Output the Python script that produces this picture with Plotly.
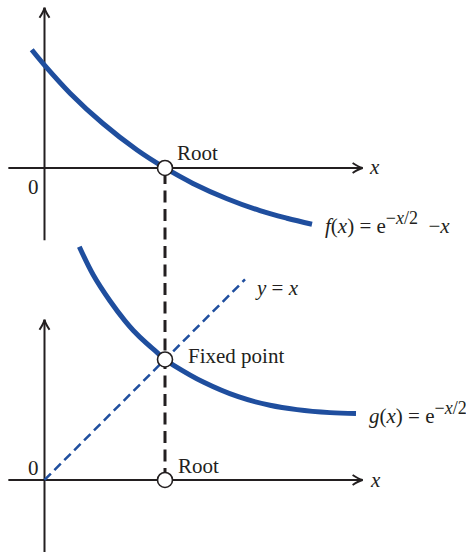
import plotly.graph_objects as go

# Upper panel: f(x) = e^(-x/2) - x  (x measured so that the root sits at 1)
f_x = [-0.106, -0.004, 0.212, 0.485, 0.768, 1.0, 1.232, 1.515, 1.788, 2.012, 2.220]
f_y = [0.981, 0.858, 0.621, 0.369, 0.149, 0.0, -0.128, -0.255, -0.354, -0.417, -0.467]

# Lower panel: g(x) = e^(-x/2)
g_x = [0.289, 0.405, 0.544, 0.668, 0.737, 0.848, 0.931, 1.0, 1.069, 1.318, 1.608,
       1.871, 2.095, 2.369, 2.585]
g_y = [1.936, 1.701, 1.485, 1.320, 1.241, 1.133, 1.062, 1.0, 0.954, 0.813, 0.691,
       0.620, 0.584, 0.559, 0.551]

# Identity line y = x
id_x = [0.0, 1.664]
id_y = [0.0, 1.664]

root_x = 1.0
fixed_pt = (1.0, 1.0)

# Axis extents (same for both panels)
h_axis = [-0.30, 2.64]
v_axis = [-0.60, 1.33]

# Height of the upper panel's origin in lower-panel units
top_origin = 2.589

BLUE = "#1f4e9e"
INK = "#231f20"
FONT = "Liberation Serif"

fig = go.Figure()

# dashed connector between the two roots
fig.add_trace(go.Scatter(x=[root_x, root_x], y=[0, top_origin], mode="lines",
                         line=dict(color=INK, width=3, dash="12px,6.5px"),
                         hoverinfo="skip"))
# y = x
fig.add_trace(go.Scatter(x=id_x, y=id_y, mode="lines",
                         line=dict(color=BLUE, width=2.5, dash="9px,5px"),
                         hoverinfo="skip"))
# curves
fig.add_trace(go.Scatter(x=f_x, y=f_y, yaxis="y2", mode="lines",
                         line=dict(color=BLUE, width=5, shape="spline", smoothing=1.0),
                         hoverinfo="skip"))
fig.add_trace(go.Scatter(x=g_x, y=g_y, mode="lines",
                         line=dict(color=BLUE, width=5, shape="spline", smoothing=1.0),
                         hoverinfo="skip"))
# open circles: roots and fixed point
circle = dict(size=15, color="white", line=dict(color=INK, width=1.6))
fig.add_trace(go.Scatter(x=[root_x], y=[0], yaxis="y2", mode="markers",
                         marker=circle, hoverinfo="skip"))
fig.add_trace(go.Scatter(x=[root_x, fixed_pt[0]], y=[0, fixed_pt[1]], mode="markers",
                         marker=circle, hoverinfo="skip"))

# axes with chevron arrowheads
shapes = []
u = 1 / 120.5  # one screen pixel in data units


def chevron_right(xt, yt, yref):
    return dict(type="path", xref="x", yref=yref,
                path=(f"M {xt-10*u},{yt+5*u} Q {xt-4*u},{yt+1*u} {xt},{yt} "
                      f"Q {xt-4*u},{yt-1*u} {xt-10*u},{yt-5*u}"),
                line=dict(color=INK, width=2))


def chevron_up(xt, yt, yref):
    return dict(type="path", xref="x", yref=yref,
                path=(f"M {xt-5*u},{yt-10*u} Q {xt-1*u},{yt-4*u} {xt},{yt} "
                      f"Q {xt+1*u},{yt-4*u} {xt+5*u},{yt-10*u}"),
                line=dict(color=INK, width=2))


for yref in ("y", "y2"):
    shapes.append(dict(type="line", xref="x", yref=yref, x0=h_axis[0], x1=h_axis[1],
                       y0=0, y1=0, line=dict(color=INK, width=2), layer="below"))
    shapes.append(dict(type="line", xref="x", yref=yref, x0=0, x1=0,
                       y0=v_axis[0], y1=v_axis[1], line=dict(color=INK, width=2), layer="below"))
    shapes.append(chevron_right(h_axis[1], 0, yref))
    shapes.append(chevron_up(0, v_axis[1], yref))


def label(text, x, y, yref="y", xanchor="left", size=21):
    return dict(text=text, x=x, y=y, xref="x", yref=yref, xanchor=xanchor,
                yanchor="middle", showarrow=False,
                font=dict(family=FONT, size=size, color=INK))


EXP = "<sup><span style='font-size:18px'>−<i>x</i>/2</span></sup>"

annotations = [
    label("Root", 1.083, 0.125, "y2"),
    label("0", -0.095, -0.154, "y2", xanchor="center"),
    label("<i>x</i>", 2.674, 0.01, "y2"),
    label(f"<i>f</i>(<i>x</i>) = e{EXP}  −<i>x</i>", 2.314, -0.46, "y2"),
    label("<i>y</i> = <i>x</i>", 1.728, 1.59),
    label("Fixed point", 1.174, 1.03),
    label(f"<i>g</i>(<i>x</i>) = e{EXP}", 2.674, 0.56),
    label("0", -0.095, 0.10, xanchor="center"),
    label("Root", 1.091, 0.116),
    label("<i>x</i>", 2.685, 0.0),
]

fig.update_layout(
    width=466, height=552,
    margin=dict(l=0, r=0, t=0, b=0),
    paper_bgcolor="white", plot_bgcolor="white",
    showlegend=False,
    xaxis=dict(range=[-0.3693, 3.498], visible=False, fixedrange=True),
    yaxis=dict(range=[-0.5975, 3.983], visible=False, fixedrange=True),
    yaxis2=dict(range=[-3.187, 1.394], overlaying="y", visible=False, fixedrange=True),
    shapes=shapes,
    annotations=annotations,
)

fig.write_html("out.html")
